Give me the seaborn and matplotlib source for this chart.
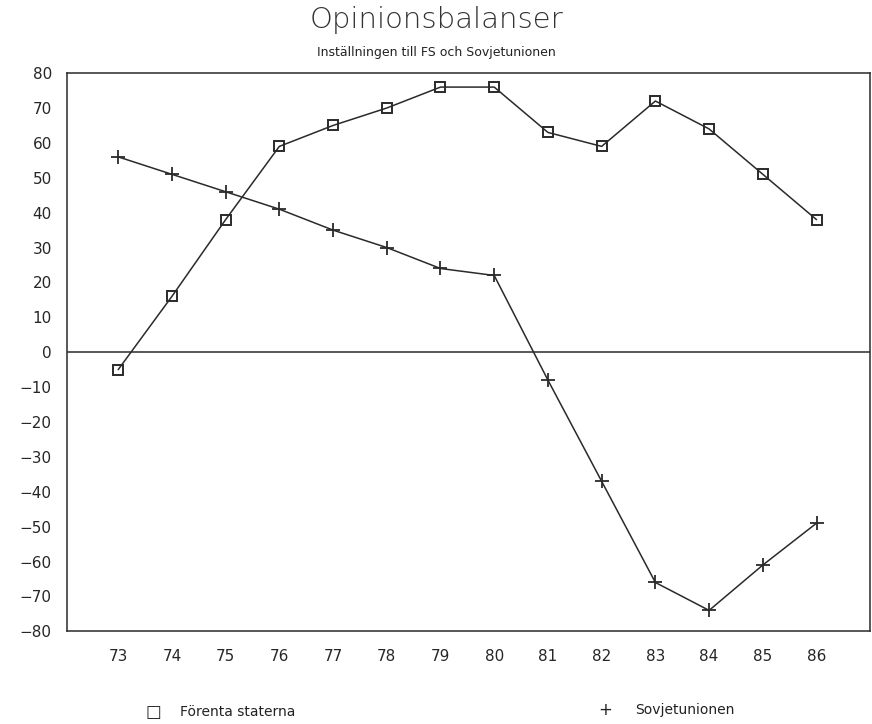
import numpy as np
import pandas as pd
import matplotlib
matplotlib.use("Agg")
import matplotlib.pyplot as plt
import seaborn as sns

# data
years = [73, 74, 75, 76, 77, 78, 79, 80, 81, 82, 83, 84, 85, 86]
usa = [-5, 16, 38, 59, 65, 70, 76, 76, 63, 59, 72, 64, 51, 38]
ussr = [56, 51, 46, 41, 35, 30, 24, 22, -8, -37, -66, -74, -61, -49]
series_names = ["Förenta staterna", "Sovjetunionen"]
yticks = list(range(-80, 81, 10))

df_usa = pd.DataFrame({"år": years, "balans": usa})
df_ussr = pd.DataFrame({"år": years, "balans": ussr})

sns.set_style("white")
plt.rcParams["font.family"] = ["DejaVu Sans"]

fig = plt.figure(figsize=(8.72, 7.24), dpi=100)
ax = fig.add_axes([0.077, 0.128, 0.921, 0.771])

linje = "#2a2a2a"
sns.lineplot(data=df_usa, x="år", y="balans", color=linje, lw=1.1, ax=ax,
             marker="s", markersize=7.5, markerfacecolor="none",
             markeredgecolor=linje, markeredgewidth=1.4)
sns.lineplot(data=df_ussr, x="år", y="balans", color=linje, lw=1.1, ax=ax,
             marker="+", markersize=10, markeredgecolor=linje, markeredgewidth=1.3)

ax.axhline(0, color=linje, lw=1.1)

ax.set_xlim(72.05, 87.0)
ax.set_ylim(-80, 80)
ax.set_xticks(years)
ax.set_xticklabels([str(y) for y in years], fontsize=11)
ax.set_yticks(yticks)
ax.set_yticklabels([str(t).replace("-", "\u2212") for t in yticks], fontsize=11)
ax.tick_params(axis="both", direction="out", length=7, width=1.1, color=linje, pad=6)
ax.tick_params(axis="y", pad=4)
ax.set_xlabel("")
ax.set_ylabel("")
for s in ax.spines.values():
    s.set_color(linje)
    s.set_linewidth(1.1)

fig.text(0.5, 0.973, "Opinionsbalanser", ha="center", va="center", fontsize=21, fontweight="light",
         color="#333333")
fig.text(0.5, 0.928, "Inställningen till FS och Sovjetunionen", ha="center", va="center", fontsize=9,
         color="#222222")

# legend row under the chart
fig.text(0.176, 0.017, "\u25a1", ha="center", va="center", fontsize=12, color="#222222")
fig.text(0.206, 0.017, series_names[0], ha="left", va="center", fontsize=10, color="#222222")
fig.text(0.694, 0.020, "+", ha="center", va="center", fontsize=12, color="#222222")
fig.text(0.728, 0.020, series_names[1], ha="left", va="center", fontsize=10, color="#222222")

fig.savefig("out.png", dpi=100)
